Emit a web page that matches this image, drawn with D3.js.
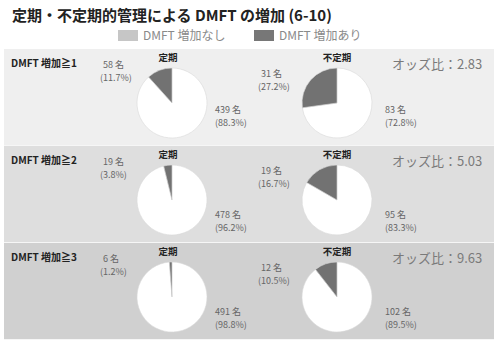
<!DOCTYPE html>
<html>
<head>
<meta charset="utf-8">
<script src="https://cdn.jsdelivr.net/npm/d3@7"></script>
<style>
  html, body { margin: 0; padding: 0; background: #fff; }
  svg { display: block; font-family: "Noto Sans CJK JP", "Noto Sans", sans-serif; }
</style>
</head>
<body>
<svg id="chart" width="498" height="341"></svg>
<script>
// DMFT increase by regular / irregular maintenance (ages 6-10)
const titleText = "定期・不定期的管理による DMFT の増加 (6-10)";
const legendLabels = ["DMFT 増加なし", "DMFT 増加あり"];
const rowLabels = ["DMFT 増加≧1", "DMFT 増加≧2", "DMFT 増加≧3"];
const groups = ["定期", "不定期"];
const increaseCounts = [[58, 31], [19, 19], [6, 12]];
const noIncreaseCounts = [[439, 83], [478, 95], [491, 102]];
const increasePct = [["11.7", "27.2"], ["3.8", "16.7"], ["1.2", "10.5"]];
const noIncreasePct = [["88.3", "72.8"], ["96.2", "83.3"], ["98.8", "89.5"]];
const oddsRatios = ["2.83", "5.03", "9.63"];

const svg = d3.select("#chart");
const W = 498;

const colors = d3.scaleOrdinal()
  .domain(["none", "some"])
  .range(["#ffffff", "#727272"]);
const legendColors = ["#c6c6c6", "#777777"];
const rowBg = ["#efefef", "#dedede", "#d0d0d0"];

// Title
svg.append("text")
  .attr("x", 12).attr("y", 21)
  .attr("font-size", 15).attr("font-weight", "bold").attr("fill", "#222")
  .text(titleText);

// Legend
const legendX = [118, 254];
legendLabels.forEach((lab, i) => {
  const g = svg.append("g").attr("transform", `translate(${legendX[i]},30)`);
  g.append("rect").attr("width", 20).attr("height", 11).attr("fill", legendColors[i]);
  g.append("text").attr("x", 25).attr("y", 10)
    .attr("font-size", 12).attr("fill", "#8a8a8a").text(lab);
});

// Row bands
const rowY = d3.scaleBand().domain(d3.range(rowLabels.length)).range([49, 340]).paddingInner(0);
const colX = d3.scaleOrdinal().domain(groups).range([172, 337]);
const R = 35;

const pie = d3.pie().sort(null).value(d => d.value).startAngle(0).endAngle(2 * Math.PI);
const arc = d3.arc().innerRadius(0).outerRadius(R);

// Two-line count / percentage label, one text element per line
function countLabel(parent, x, y, count, pct, dx) {
  parent.append("text").attr("x", x + dx).attr("y", y)
    .attr("font-size", 9).attr("fill", "#666").text(count + " 名");
  parent.append("text").attr("x", x).attr("y", y + 13)
    .attr("font-size", 9).attr("fill", "#666").text("(" + pct + "%)");
}

rowLabels.forEach((rl, r) => {
  const y0 = rowY(r);
  const row = svg.append("g").attr("transform", `translate(0,${y0})`);
  row.append("rect")
    .attr("x", 4).attr("y", 0).attr("width", W - 8).attr("height", rowY.bandwidth())
    .attr("fill", rowBg[r]);
  row.append("line")
    .attr("x1", 4).attr("x2", W - 4).attr("y1", rowY.bandwidth() - 0.5).attr("y2", rowY.bandwidth() - 0.5)
    .attr("stroke", "#f6f6f6").attr("stroke-width", 1);

  row.append("text")
    .attr("x", 11).attr("y", 18)
    .attr("font-size", 10).attr("font-weight", "bold").attr("fill", "#222")
    .text(rl);

  row.append("text")
    .attr("x", 392).attr("y", 20)
    .attr("font-size", 13).attr("fill", "#7a7a7a")
    .text("オッズ比：" + oddsRatios[r]);

  const rightDy = r === 0 ? 60 : 68;

  groups.forEach((grp, c) => {
    const cx = colX(grp);
    const cy = 54;
    const slices = pie([
      { key: "none", value: noIncreaseCounts[r][c] },
      { key: "some", value: increaseCounts[r][c] }
    ]);
    const pg = row.append("g").attr("transform", `translate(${cx},${cy})`);
    pg.selectAll("path").data(slices).join("path")
      .attr("d", arc)
      .attr("fill", d => colors(d.data.key))
      .attr("stroke", "#d8d8d8").attr("stroke-width", 0.6);

    row.append("text")
      .attr("x", cx - (c === 0 ? 4 : 0)).attr("y", 12)
      .attr("text-anchor", "middle")
      .attr("font-size", 9.5).attr("font-weight", "bold").attr("fill", "#222")
      .text(grp);

    // increase (left) label
    const lx = cx + (c === 0 ? -72 : -79);
    const ly = c === 0 ? 19 : 28;
    countLabel(row, lx, ly, increaseCounts[r][c], increasePct[r][c], 3);

    // no-increase (right) label
    const rx = cx + (c === 0 ? 43 : 48);
    countLabel(row, rx, rightDy + 4, noIncreaseCounts[r][c], noIncreasePct[r][c], 0);
  });
});
</script>
</body>
</html>
